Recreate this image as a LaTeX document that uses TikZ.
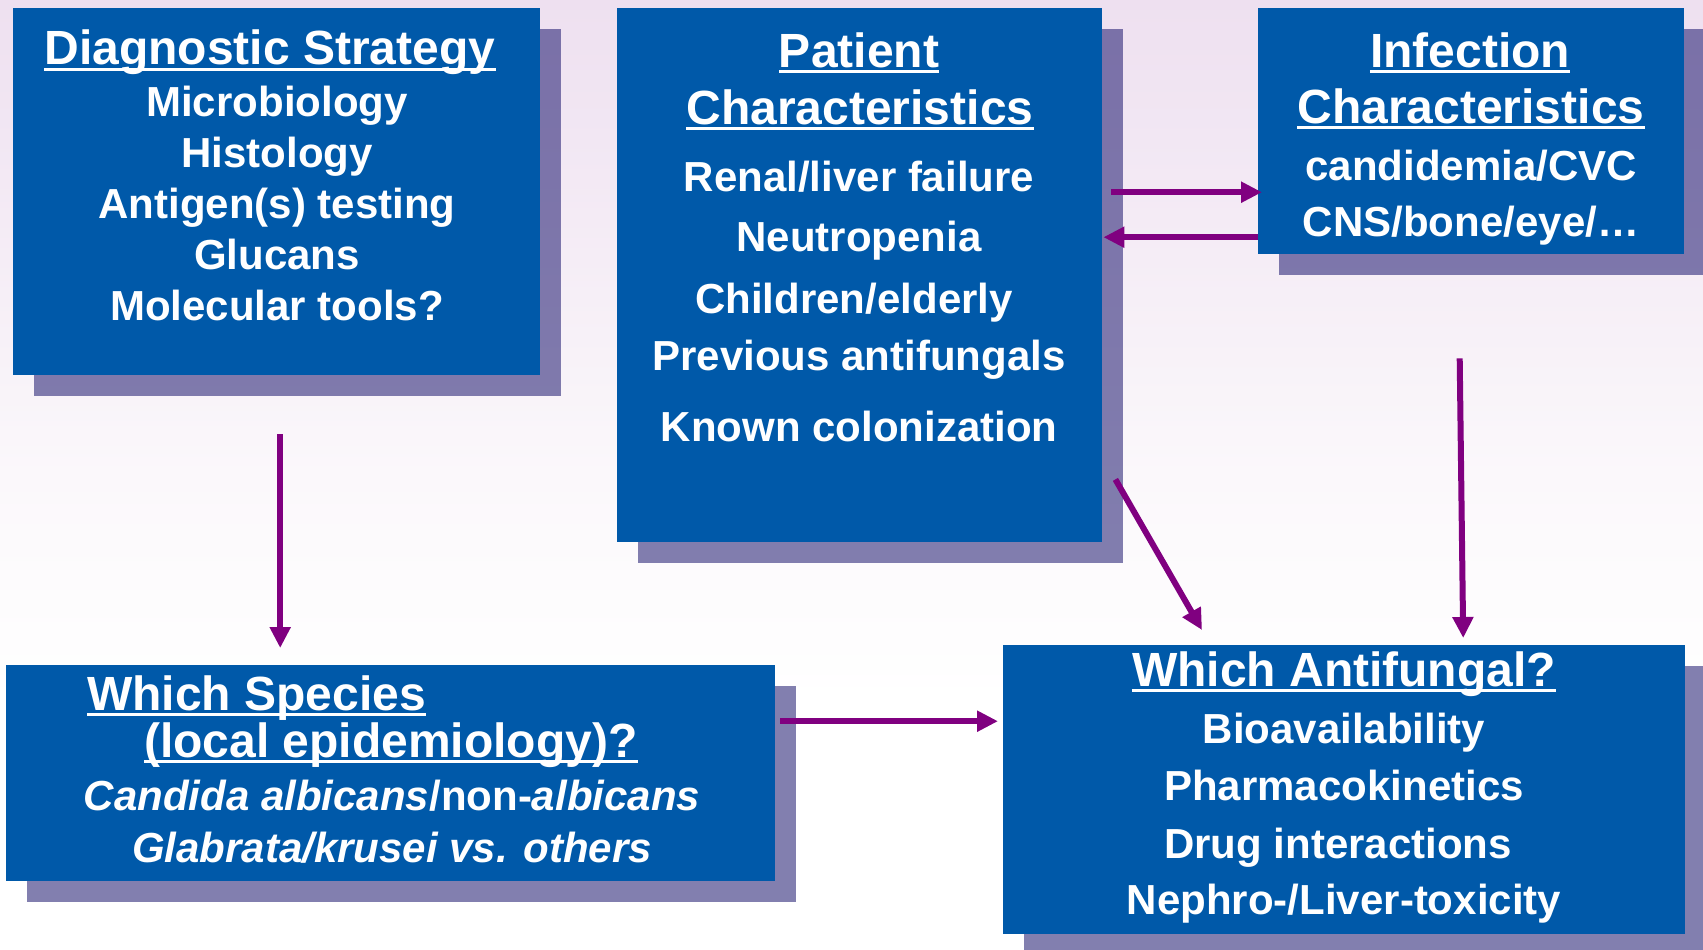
\documentclass[tikz,border=0pt]{standalone}
\usepackage{fontspec}
\setmainfont{Liberation Sans}
\usetikzlibrary{arrows.meta,shadows}
\definecolor{boxblue}{RGB}{0,89,169}
\definecolor{shadowcol}{RGB}{7,1,97}
\definecolor{arrowcol}{RGB}{128,0,128}
\definecolor{bgtop}{RGB}{238,224,240}
\definecolor{bgmid}{RGB}{251,248,251}
\pgfdeclareverticalshading{bgshade}{100bp}{color(0bp)=(white); color(38bp)=(white); color(50bp)=(bgmid); color(75bp)=(bgtop); color(100bp)=(bgtop)}
\begin{document}
\begin{tikzpicture}[x=1pt,y=-1pt,
  panel/.style={rectangle, fill=boxblue, inner sep=0pt, anchor=north west,
    drop shadow={shadow xshift=21pt, shadow yshift=-21pt, fill=shadowcol, opacity=0.5}},
  ttl/.style={text=white, font=\fontsize{48}{58}\selectfont\bfseries, inner sep=0pt, anchor=base},
  txt/.style={text=white, font=\fontsize{42}{50}\selectfont\bfseries, inner sep=0pt, anchor=base},
  uline/.style={draw=white, line width=3.4pt},
  arr/.style={draw=arrowcol, line width=6pt, -{Triangle[length=21pt,width=20pt]}}]
\useasboundingbox (0,0) rectangle (1703,950);
\clip (0,0) rectangle (1703,950);
\shade[shading=bgshade] (0,0) rectangle (1703,950);

% boxes
\node[panel, minimum width=527pt, minimum height=367pt] (diag) at (13,8) {};
\node[panel, minimum width=485pt, minimum height=534pt] (patient) at (617,8) {};
\node[panel, minimum width=426pt, minimum height=246pt] (infect) at (1258,8) {};
\node[panel, minimum width=769pt, minimum height=216pt] (species) at (6,665) {};
\node[panel, minimum width=682pt, minimum height=289pt] (antif) at (1003,645) {};

% Diagnostic strategy
\node[ttl] (d0) at (270,65) {Diagnostic Strategy};
\draw[uline] ([yshift=-4.5pt]d0.base west) -- ([yshift=-4.5pt]d0.base east);
\node[txt] (d1) at (277,117) {Microbiology};
\node[txt] (d2) at (277,167) {Histology};
\node[txt] (d3) at (277,218) {Antigen(s) testing};
\node[txt] (d4) at (277,269) {Glucans};
\node[txt] (d5) at (277,320) {Molecular tools?};

% Patient characteristics
\node[ttl] (p0) at (859,67) {Patient};
\draw[uline] ([yshift=-4.5pt]p0.base west) -- ([yshift=-4.5pt]p0.base east);
\node[ttl] (p0b) at (860,124) {Characteristics};
\draw[uline] ([yshift=-4.5pt]p0b.base west) -- ([yshift=-4.5pt]p0b.base east);
\node[txt] (p1) at (859,191) {Renal/liver failure};
\node[txt] (p2) at (859,251) {Neutropenia};
\node[txt] (p3) at (854,313) {Children/elderly};
\node[txt] (p4) at (859,370) {Previous antifungals};
\node[txt] (p5) at (859,441) {Known colonization};

% Infection characteristics
\node[ttl] (i0) at (1470,67) {Infection};
\draw[uline] ([yshift=-4.5pt]i0.base west) -- ([yshift=-4.5pt]i0.base east);
\node[ttl] (i0b) at (1471,123) {Characteristics};
\draw[uline] ([yshift=-4.5pt]i0b.base west) -- ([yshift=-4.5pt]i0b.base east);
\node[txt] (i1) at (1471,180) {candidemia/CVC};
\node[txt] (i2) at (1471,236) {CNS/bone/eye/…};

% Which species
\node[ttl, anchor=base west] (s0) at (87,710) {Which Species};
\draw[uline] ([yshift=-4.5pt]s0.base west) -- ([yshift=-4.5pt]s0.base east);
\node[ttl, anchor=base west] (s0b) at (144,757) {(local epidemiology)?};
\draw[uline] ([yshift=-4.5pt]s0b.base west) -- ([yshift=-4.5pt]s0b.base east);
\node[txt] (s1) at (392,810) {\itshape Candida albicans\upshape/non-\itshape albicans};
\node[txt] (s2) at (392,862) {\itshape Glabrata/krusei vs. others};

% Which antifungal
\node[ttl] (a0) at (1344,686) {Which Antifungal?};
\draw[uline] ([yshift=-4.5pt]a0.base west) -- ([yshift=-4.5pt]a0.base east);
\node[txt] (a1) at (1344,743) {Bioavailability};
\node[txt] (a2) at (1344,800) {Pharmacokinetics};
\node[txt] (a3) at (1338,858) {Drug interactions};
\node[txt] (a4) at (1344,914) {Nephro-/Liver-toxicity};

% connectors
\draw[arr] ([shift={(3.5pt,-59pt)}]diag.south) -- ([shift={(-110.5pt,17pt)}]species.north);
\draw[arr] ([shift={(9pt,83pt)}]patient.east) -- ([shift={(4pt,-61pt)}]infect.west);
\draw[arr] ([shift={(0pt,-106pt)}]infect.west) -- ([shift={(1pt,38pt)}]patient.east);
\draw[arr] ([shift={(13pt,63pt)}]patient.south east) -- ([shift={(199pt,15pt)}]antif.north west);
\draw[arr] ([shift={(-11.5pt,-104pt)}]infect.south) -- ([shift={(119pt,7pt)}]antif.north);
\draw[arr] ([shift={(5pt,52pt)}]species.east) -- ([shift={(-5pt,68.5pt)}]antif.west);
\end{tikzpicture}
\end{document}
